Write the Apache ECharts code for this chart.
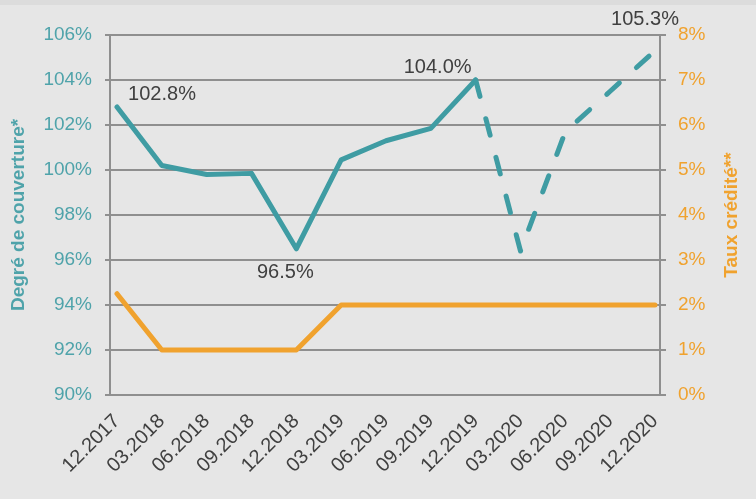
<!DOCTYPE html>
<html>
<head>
<meta charset="utf-8">
<script src="https://cdn.jsdelivr.net/npm/echarts@6/dist/echarts.min.js"></script>
<style>
html,body{margin:0;padding:0;background:#e6e6e6;}
#chart{width:756px;height:499px;}
</style>
</head>
<body>
<div id="chart"></div>
<script>
const categories = ['12.2017','03.2018','06.2018','09.2018','12.2018','03.2019','06.2019','09.2019','12.2019','03.2020','06.2020','09.2020','12.2020'];
const degreCouverture = [102.8, 100.2, 99.8, 99.85, 96.5, 100.45, 101.3, 101.85, 104.0, 96.4, 101.7, 103.5, 105.3];
const tauxCredite = [2.25, 1, 1, 1, 1, 2, 2, 2, 2, 2, 2, 2, 2];
const lastActualIndex = 8; // solid up to 12.2019, dashed afterwards
const labelledPoints = {0: 'p0', 4: 'p4', 8: 'p8', 12: 'p12'};
const leftAxisName = 'Degré de couverture*';
const rightAxisName = 'Taux crédité**';

const TEAL = '#3f9ca3';
const TEAL_TXT = '#4fa3aa';
const ORANGE = '#f0a22e';
const GRIDC = '#8f8f8f';
const FONT = 'Liberation Sans, Arial, sans-serif';

const labelStyles = {
  p0: {position: 'top', offset: [45, 3]},
  p4: {position: 'bottom', offset: [-11, 8]},
  p8: {position: 'top', offset: [-38, 3]},
  p12: {position: 'top', offset: [-10, -16]}
};

function makeItem(v, i) {
  if (v === null) return null;
  const key = labelledPoints[i];
  if (!key) return v;
  return {
    value: v,
    label: Object.assign({
      show: true,
      formatter: p => p.value.toFixed(1) + '%',
      color: '#404040',
      fontSize: 20,
      fontFamily: FONT
    }, labelStyles[key])
  };
}

const solidData = degreCouverture.map((v, i) => makeItem(i <= lastActualIndex ? v : null, i <= lastActualIndex ? i : -1));
const dashedData = degreCouverture.map((v, i) => makeItem(i >= lastActualIndex ? v : null, i > lastActualIndex ? i : -1));

const chart = echarts.init(document.getElementById('chart'), null, {renderer: 'canvas'});
chart.setOption({
  animation: false,
  backgroundColor: '#e6e6e6',
  graphic: [{type: 'rect', shape: {x: 0, y: 0, width: 756, height: 5}, style: {fill: '#dcdcdc'}, silent: true}],
  grid: [
    {left: 110, right: 96, top: 35, bottom: 104},
    {left: 117, right: 101, top: 35, bottom: 104}
  ],
  xAxis: [
    {gridIndex: 0, type: 'category', data: categories, show: false},
    {
      gridIndex: 1, type: 'category', data: categories, boundaryGap: false,
      axisLine: {show: false}, axisTick: {show: false}, splitLine: {show: false},
      axisLabel: {rotate: 45, margin: 23, fontSize: 20, color: '#404040', fontFamily: FONT, interval: 0}
    }
  ],
  yAxis: [
    {
      gridIndex: 0, type: 'value', min: 90, max: 106, interval: 2, position: 'left',
      name: leftAxisName, nameLocation: 'middle', nameRotate: 90, nameGap: 82,
      nameTextStyle: {color: TEAL_TXT, fontSize: 19, fontWeight: 'bold', fontFamily: FONT},
      axisLine: {show: true, lineStyle: {color: GRIDC, width: 2}},
      axisTick: {show: true, length: 5, lineStyle: {color: GRIDC, width: 2}},
      splitLine: {show: true, lineStyle: {color: GRIDC, width: 2}},
      axisLabel: {formatter: v => v + '%', color: TEAL_TXT, fontSize: 19, fontFamily: FONT, margin: 18}
    },
    {
      gridIndex: 0, type: 'value', min: 0, max: 8, interval: 1, position: 'right',
      name: rightAxisName, nameLocation: 'middle', nameRotate: 90, nameGap: 62,
      nameTextStyle: {color: ORANGE, fontSize: 19, fontWeight: 'bold', fontFamily: FONT},
      axisLine: {show: true, lineStyle: {color: GRIDC, width: 2}},
      axisTick: {show: true, length: 6, lineStyle: {color: GRIDC, width: 2}},
      splitLine: {show: false},
      axisLabel: {formatter: v => v + '%', color: ORANGE, fontSize: 19, fontFamily: FONT, margin: 18}
    },
    {gridIndex: 1, type: 'value', min: 90, max: 106, show: false, splitLine: {show: false}},
    {gridIndex: 1, type: 'value', min: 0, max: 8, show: false, splitLine: {show: false}}
  ],
  series: [
    {
      type: 'line', xAxisIndex: 1, yAxisIndex: 3, data: tauxCredite,
      symbol: 'none', lineStyle: {color: ORANGE, width: 5, cap: 'round', join: 'round'}, z: 2
    },
    {
      type: 'line', xAxisIndex: 1, yAxisIndex: 2, data: solidData, connectNulls: false,
      symbol: 'circle', symbolSize: 1, showSymbol: true, itemStyle: {color: 'rgba(0,0,0,0)'},
      lineStyle: {color: TEAL, width: 5, cap: 'round', join: 'round'}, z: 3
    },
    {
      type: 'line', xAxisIndex: 1, yAxisIndex: 2, data: dashedData, connectNulls: false,
      symbol: 'circle', symbolSize: 1, showSymbol: true, itemStyle: {color: 'rgba(0,0,0,0)'},
      lineStyle: {color: TEAL, width: 5, type: [17, 23], cap: 'round', join: 'round'}, z: 3
    }
  ]
});
</script>
</body>
</html>
